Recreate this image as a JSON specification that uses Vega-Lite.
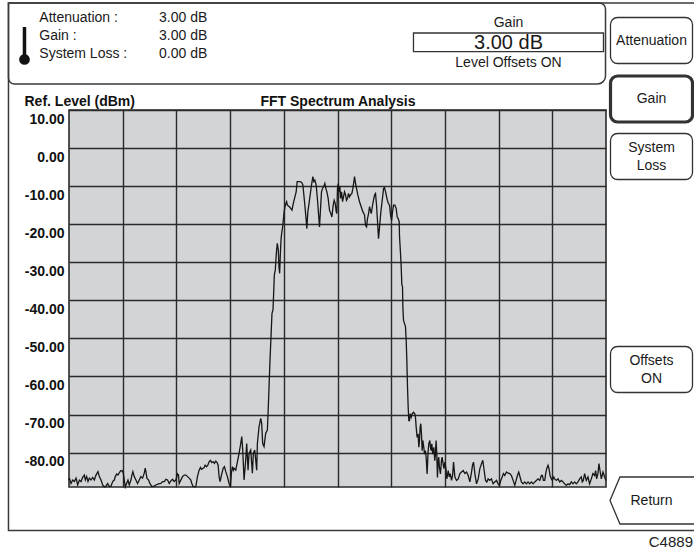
{
"$schema": "https://vega.github.io/schema/vega-lite/v6.json",
"width": 537, "height": 377,
"autosize": {"type": "none"},
"padding": {"left": 69, "top": 110, "right": 88, "bottom": 64},
"background": "#ffffff",
"config": {"font": "Liberation Sans", "view": {"fill": "#d3d4d6", "stroke": "#2a2a2a", "strokeWidth": 1.6}},
"resolve": {"scale": {"x": "independent", "y": "independent"}},
"layer": [
{
"layer": [
{
"data": {"values": [
{"f":0,"dB":-87.2},{"f":0.07,"dB":-86.7},{"f":0.38,"dB":-88.1},{"f":0.69,"dB":-87.2},{"f":1.0,"dB":-87.6},{"f":1.31,"dB":-86.7},{"f":1.62,"dB":-88.5},{"f":1.93,"dB":-87.2},{"f":2.24,"dB":-87.6},{"f":2.55,"dB":-86.5},{"f":2.86,"dB":-85.9},{"f":3.05,"dB":-87.2},{"f":3.29,"dB":-86.3},{"f":3.54,"dB":-87.6},{"f":3.79,"dB":-86.7},{"f":4.1,"dB":-87.2},{"f":4.41,"dB":-86.5},{"f":4.72,"dB":-87.2},{"f":5.03,"dB":-85.9},{"f":5.4,"dB":-85.0},{"f":5.65,"dB":-86.3},{"f":5.96,"dB":-87.2},{"f":6.27,"dB":-88.5},{"f":6.58,"dB":-89.0},{"f":6.89,"dB":-88.8},{"f":7.2,"dB":-88.1},{"f":7.51,"dB":-88.9},{"f":7.82,"dB":-88.8},{"f":8.13,"dB":-87.6},{"f":8.44,"dB":-87.2},{"f":8.62,"dB":-86.3},{"f":8.87,"dB":-85.6},{"f":9.12,"dB":-85.9},{"f":9.36,"dB":-85.3},{"f":9.61,"dB":-84.8},{"f":9.86,"dB":-84.7},{"f":10.11,"dB":-85.3},{"f":10.29,"dB":-87.2},{"f":10.48,"dB":-89.0},{"f":10.73,"dB":-88.1},{"f":10.98,"dB":-87.2},{"f":11.22,"dB":-88.5},{"f":11.53,"dB":-87.2},{"f":11.72,"dB":-85.9},{"f":11.9,"dB":-85.0},{"f":12.15,"dB":-86.3},{"f":12.46,"dB":-87.2},{"f":12.77,"dB":-88.1},{"f":13.08,"dB":-87.2},{"f":13.39,"dB":-86.3},{"f":13.7,"dB":-86.7},{"f":14.01,"dB":-85.4},{"f":14.2,"dB":-84.1},{"f":14.32,"dB":-85.0},{"f":14.51,"dB":-86.7},{"f":14.82,"dB":-87.2},{"f":15.06,"dB":-88.1},{"f":15.44,"dB":-88.9},{"f":15.87,"dB":-88.8},{"f":16.18,"dB":-88.5},{"f":16.68,"dB":-88.2},{"f":17.11,"dB":-88.1},{"f":17.42,"dB":-87.6},{"f":17.73,"dB":-87.6},{"f":18.04,"dB":-87.0},{"f":18.35,"dB":-87.2},{"f":18.66,"dB":-88.1},{"f":18.97,"dB":-87.4},{"f":19.28,"dB":-87.0},{"f":19.59,"dB":-87.6},{"f":19.9,"dB":-87.2},{"f":20.21,"dB":-85.6},{"f":20.39,"dB":-85.9},{"f":20.52,"dB":-88.1},{"f":20.83,"dB":-87.2},{"f":21.14,"dB":-86.3},{"f":21.45,"dB":-85.9},{"f":21.76,"dB":-85.9},{"f":22.07,"dB":-86.3},{"f":22.38,"dB":-86.7},{"f":22.69,"dB":-87.2},{"f":22.87,"dB":-88.1},{"f":23.12,"dB":-88.9},{"f":23.37,"dB":-89.0},{"f":23.62,"dB":-88.9},{"f":23.92,"dB":-86.3},{"f":24.23,"dB":-84.6},{"f":24.48,"dB":-83.9},{"f":24.67,"dB":-84.4},{"f":24.98,"dB":-84.1},{"f":25.16,"dB":-83.9},{"f":25.35,"dB":-83.3},{"f":25.6,"dB":-83.7},{"f":25.85,"dB":-83.3},{"f":26.09,"dB":-82.4},{"f":26.34,"dB":-82.0},{"f":26.59,"dB":-82.6},{"f":26.84,"dB":-82.4},{"f":27.09,"dB":-82.8},{"f":27.33,"dB":-82.2},{"f":27.58,"dB":-82.6},{"f":27.77,"dB":-83.3},{"f":27.95,"dB":-86.3},{"f":28.14,"dB":-87.6},{"f":28.39,"dB":-85.9},{"f":28.7,"dB":-84.1},{"f":28.94,"dB":-83.7},{"f":29.19,"dB":-85.0},{"f":29.5,"dB":-86.3},{"f":29.81,"dB":-88.1},{"f":30.06,"dB":-89.0},{"f":30.24,"dB":-85.4},{"f":30.43,"dB":-83.7},{"f":30.62,"dB":-84.6},
{"f":30.74,"dB":-84.1},{"f":31.05,"dB":-84.6},{"f":31.36,"dB":-82.4},{"f":31.67,"dB":-80.2},{"f":31.98,"dB":-77.6},{"f":32.17,"dB":-75.8},{"f":32.35,"dB":-79.3},{"f":32.6,"dB":-87.2},{"f":32.91,"dB":-81.9},{"f":33.09,"dB":-77.6},{"f":33.34,"dB":-84.6},{"f":33.53,"dB":-80.2},{"f":33.84,"dB":-79.3},{"f":34.15,"dB":-85.4},{"f":34.33,"dB":-80.2},{"f":34.58,"dB":-79.3},{"f":34.77,"dB":-81.9},{"f":34.95,"dB":-84.6},{"f":35.08,"dB":-77.6},{"f":35.39,"dB":-73.2},{"f":35.7,"dB":-71.0},{"f":35.88,"dB":-72.3},{"f":36.07,"dB":-77.6},{"f":36.32,"dB":-78.4},{"f":36.63,"dB":-74.9},{"f":36.94,"dB":-74.1},{"f":37.12,"dB":-67.9},{"f":37.25,"dB":-62.7},{"f":37.43,"dB":-55.7},{"f":37.62,"dB":-49.5},{"f":37.8,"dB":-43.4},{"f":37.99,"dB":-42.5},{"f":38.11,"dB":-38.2},{"f":38.24,"dB":-33.3},{"f":38.42,"dB":-32.0},{"f":38.61,"dB":-27.6},{"f":38.79,"dB":-25.0},{"f":38.98,"dB":-26.8},{"f":39.1,"dB":-31.2},{"f":39.23,"dB":-32.9},{"f":39.35,"dB":-28.1},{"f":39.48,"dB":-24.1},{"f":39.6,"dB":-22.4},{"f":39.79,"dB":-20.6},{"f":39.91,"dB":-18.9},{"f":40.03,"dB":-17.1},{"f":40.22,"dB":-15.4},{"f":40.41,"dB":-14.5},{"f":40.53,"dB":-14.1},{"f":40.65,"dB":-14.9},{"f":40.84,"dB":-15.2},{"f":41.03,"dB":-15.4},{"f":41.27,"dB":-15.8},{"f":41.52,"dB":-16.3},{"f":41.77,"dB":-14.5},
{"f":42.3,"dB":-11.5},{"f":42.49,"dB":-8.8},{"f":42.74,"dB":-8.8},{"f":43.05,"dB":-8.8},{"f":43.36,"dB":-9.1},{"f":43.55,"dB":-9.7},{"f":43.86,"dB":-14.1},{"f":44.17,"dB":-19.0},{"f":44.29,"dB":-21.2},{"f":44.48,"dB":-16.7},{"f":44.66,"dB":-15.0},{"f":44.91,"dB":-12.3},{"f":45.16,"dB":-9.7},{"f":45.41,"dB":-7.5},{"f":45.59,"dB":-8.8},{"f":45.78,"dB":-8.4},{"f":46.03,"dB":-9.7},{"f":46.28,"dB":-13.7},{"f":46.53,"dB":-18.5},{"f":46.65,"dB":-20.7},{"f":46.84,"dB":-15.9},{"f":47.02,"dB":-11.5},{"f":47.21,"dB":-10.6},{"f":47.46,"dB":-10.1},{"f":47.64,"dB":-9.3},{"f":47.83,"dB":-10.6},{"f":48.02,"dB":-11.5},{"f":48.26,"dB":-13.2},{"f":48.51,"dB":-16.3},{"f":48.76,"dB":-17.2},{"f":48.95,"dB":-18.1},{"f":49.2,"dB":-15.0},{"f":49.38,"dB":-13.7},{"f":49.57,"dB":-14.5},{"f":49.76,"dB":-16.7},{"f":49.88,"dB":-17.2},{"f":50.0,"dB":-10.6},{"f":50.13,"dB":-9.3},{"f":50.25,"dB":-11.5},{"f":50.44,"dB":-10.1},{"f":50.56,"dB":-13.2},{"f":50.75,"dB":-11.5},{"f":50.94,"dB":-14.1},{"f":51.12,"dB":-12.8},{"f":51.31,"dB":-11.5},{"f":51.5,"dB":-12.3},{"f":51.68,"dB":-13.7},{"f":51.87,"dB":-13.2},{"f":52.05,"dB":-11.9},{"f":52.24,"dB":-12.8},{"f":52.43,"dB":-12.3},{"f":52.68,"dB":-11.9},{"f":52.86,"dB":-10.6},{"f":53.05,"dB":-8.8},{"f":53.17,"dB":-7.5},{"f":53.36,"dB":-9.3},{"f":53.54,"dB":-10.6},{"f":53.79,"dB":-12.3},{"f":54.1,"dB":-14.1},{"f":54.41,"dB":-15.4},{"f":54.72,"dB":-16.7},{"f":55.04,"dB":-17.6},{"f":55.22,"dB":-20.3},{"f":55.41,"dB":-20.7},{"f":55.59,"dB":-18.5},{"f":55.78,"dB":-17.2},{"f":55.97,"dB":-15.4},{"f":56.28,"dB":-17.2},{"f":56.59,"dB":-14.5},{"f":56.9,"dB":-12.3},{"f":57.08,"dB":-11.9},{"f":57.27,"dB":-15.0},{"f":57.46,"dB":-19.4},{"f":57.64,"dB":-23.8},{"f":57.83,"dB":-20.7},{"f":58.08,"dB":-16.7},{"f":58.33,"dB":-13.7},{"f":58.58,"dB":-10.6},{"f":58.76,"dB":-10.4},{"f":58.95,"dB":-11.5},{"f":59.2,"dB":-13.2},{"f":59.45,"dB":-14.5},{"f":59.69,"dB":-15.0},{"f":59.88,"dB":-17.6},{"f":60.07,"dB":-19.0},{"f":60.25,"dB":-16.7},{"f":60.44,"dB":-15.0},{"f":60.69,"dB":-15.0},{"f":60.93,"dB":-15.9},{"f":61.12,"dB":-18.1},{"f":61.3,"dB":-18.5},{"f":61.49,"dB":-19.4},
{"f":61.55,"dB":-23.2},{"f":61.73,"dB":-27.6},{"f":61.86,"dB":-31.1},{"f":61.98,"dB":-35.9},{"f":62.11,"dB":-36.4},{"f":62.17,"dB":-41.7},{"f":62.29,"dB":-45.2},{"f":62.48,"dB":-46.1},{"f":62.66,"dB":-46.9},{"f":62.79,"dB":-50.5},{"f":62.91,"dB":-55.7},{"f":63.04,"dB":-62.8},{"f":63.16,"dB":-68.0},{"f":63.28,"dB":-71.6},{"f":63.41,"dB":-71.6},{"f":63.53,"dB":-69.8},{"f":63.72,"dB":-70.7},{"f":63.9,"dB":-69.8},{"f":64.15,"dB":-69.4},{"f":64.4,"dB":-69.8},{"f":64.52,"dB":-70.7},{"f":64.65,"dB":-73.3},{"f":64.83,"dB":-76.0},{"f":65.02,"dB":-75.1},{"f":65.14,"dB":-78.6},{"f":65.27,"dB":-76.8},{"f":65.39,"dB":-73.3},{"f":65.51,"dB":-72.4},{"f":65.64,"dB":-75.1},{"f":65.76,"dB":-79.5},{"f":65.89,"dB":-76.8},{"f":66.07,"dB":-78.6},{"f":66.2,"dB":-80.4},{"f":66.38,"dB":-79.5},{"f":66.51,"dB":-81.2},{"f":66.69,"dB":-85.6},{"f":66.88,"dB":-79.5},{"f":67.0,"dB":-77.7},{"f":67.19,"dB":-76.8},{"f":67.31,"dB":-78.6},{"f":67.43,"dB":-79.5},{"f":67.56,"dB":-77.7},{"f":67.74,"dB":-80.4},{"f":67.93,"dB":-78.6},{"f":68.12,"dB":-82.1},{"f":68.24,"dB":-80.4},{"f":68.36,"dB":-76.8},{"f":68.49,"dB":-80.4},{"f":68.61,"dB":-86.5},{"f":68.74,"dB":-82.1},{"f":68.86,"dB":-81.2},{"f":68.98,"dB":-83.9},{"f":69.17,"dB":-85.6},{"f":69.36,"dB":-82.1},{"f":69.48,"dB":-81.2},
{"f":69.81,"dB":-84.2},{"f":70.0,"dB":-82.5},{"f":70.19,"dB":-84.2},{"f":70.37,"dB":-86.9},{"f":70.62,"dB":-84.7},{"f":70.81,"dB":-86.4},{"f":70.99,"dB":-85.5},{"f":71.24,"dB":-87.3},{"f":71.43,"dB":-86.0},{"f":71.61,"dB":-82.5},{"f":71.86,"dB":-86.4},{"f":72.17,"dB":-87.3},{"f":72.48,"dB":-86.9},{"f":72.79,"dB":-85.5},{"f":73.1,"dB":-85.1},{"f":73.41,"dB":-84.7},{"f":73.72,"dB":-85.5},{"f":74.03,"dB":-85.1},{"f":74.34,"dB":-86.0},{"f":74.65,"dB":-87.7},{"f":74.96,"dB":-85.1},{"f":75.14,"dB":-83.3},{"f":75.33,"dB":-82.5},{"f":75.58,"dB":-85.5},{"f":75.89,"dB":-88.2},{"f":76.2,"dB":-86.9},{"f":76.51,"dB":-84.2},{"f":76.82,"dB":-82.9},{"f":77.06,"dB":-82.0},{"f":77.31,"dB":-84.7},{"f":77.56,"dB":-87.3},{"f":77.81,"dB":-87.7},{"f":78.05,"dB":-86.9},{"f":78.36,"dB":-87.3},{"f":78.67,"dB":-86.9},{"f":78.98,"dB":-88.2},{"f":79.29,"dB":-87.7},{"f":79.6,"dB":-87.3},{"f":79.91,"dB":-88.2},{"f":80.16,"dB":-88.6},{"f":80.41,"dB":-87.3},{"f":80.66,"dB":-86.4},{"f":80.9,"dB":-85.5},{"f":81.15,"dB":-86.0},{"f":81.46,"dB":-85.1},{"f":81.77,"dB":-85.4},{"f":82.08,"dB":-85.5},{"f":82.39,"dB":-86.0},{"f":82.7,"dB":-87.3},{"f":83.01,"dB":-88.6},{"f":83.26,"dB":-87.3},{"f":83.51,"dB":-86.0},{"f":83.75,"dB":-85.1},{"f":84.0,"dB":-86.4},{"f":84.25,"dB":-87.7},{"f":84.56,"dB":-88.2},{"f":84.87,"dB":-87.7},{"f":85.18,"dB":-88.2},{"f":85.49,"dB":-87.7},{"f":85.8,"dB":-88.2},{"f":86.11,"dB":-87.7},{"f":86.42,"dB":-88.2},{"f":86.73,"dB":-87.7},{"f":87.04,"dB":-87.3},{"f":87.35,"dB":-86.9},{"f":87.66,"dB":-87.3},{"f":87.97,"dB":-86.0},{"f":88.15,"dB":-86.0},{"f":88.34,"dB":-87.3},{"f":88.59,"dB":-87.3},{"f":88.77,"dB":-85.5},{"f":88.96,"dB":-84.2},{"f":89.21,"dB":-83.3},{"f":89.39,"dB":-84.2},{"f":89.58,"dB":-86.0},{"f":89.83,"dB":-86.9},{"f":90.01,"dB":-87.3},{"f":90.26,"dB":-86.4},{"f":90.45,"dB":-86.9},{"f":90.76,"dB":-87.3},{"f":91.07,"dB":-86.9},{"f":91.38,"dB":-87.7},{"f":91.69,"dB":-87.3},{"f":92.0,"dB":-87.7},{"f":92.3,"dB":-88.2},{"f":92.61,"dB":-88.6},{"f":92.92,"dB":-88.2},{"f":93.23,"dB":-88.4},{"f":93.54,"dB":-87.7},{"f":93.85,"dB":-88.2},{"f":94.16,"dB":-87.7},{"f":94.47,"dB":-88.2},{"f":94.78,"dB":-87.7},{"f":95.09,"dB":-86.9},{"f":95.4,"dB":-86.4},{"f":95.58,"dB":-87.7},{"f":95.77,"dB":-87.3},{"f":96.02,"dB":-85.5},{"f":96.33,"dB":-87.3},{"f":96.64,"dB":-86.4},{"f":96.95,"dB":-88.2},{"f":97.26,"dB":-86.9},{"f":97.57,"dB":-85.5},{"f":97.88,"dB":-86.0},{"f":98.07,"dB":-84.7},{"f":98.25,"dB":-86.9},{"f":98.5,"dB":-85.5},{"f":98.69,"dB":-82.9},{"f":98.88,"dB":-84.7},{"f":99.13,"dB":-86.9},{"f":99.44,"dB":-85.1},{"f":99.75,"dB":-86.4},{"f":100.0,"dB":-87.3}
]},
"mark": {"type": "line", "color": "#161616", "strokeWidth": 1.3},
"encoding": {
"x": {"field": "f", "type": "quantitative", "scale": {"domain": [0, 100], "nice": false, "zero": false},
 "axis": {"orient": "top", "values": [10,20,30,40,50,60,70,80,90], "grid": true, "gridColor": "#2a2a2a", "gridWidth": 1.4, "gridOpacity": 1, "labels": false, "ticks": false, "domain": false,
  "title": "FFT Spectrum Analysis", "titleFont": "Liberation Sans", "titleFontSize": 14, "titleFontWeight": "bold", "titleColor": "#111111", "titleX": 268.5, "titleY": -5, "titleAlign": "center", "titleBaseline": "alphabetic", "titleAngle": 0}},
"y": {"field": "dB", "type": "quantitative", "scale": {"domain": [-89.03, 10], "nice": false, "zero": false},
 "axis": {"orient": "left", "values": [10,0,-10,-20,-30,-40,-50,-60,-70,-80], "labelExpr": "replace(format(datum.value, '.2f'), '\u2212', '-')", "grid": true, "gridColor": "#2a2a2a", "gridWidth": 1.4, "gridOpacity": 1, "ticks": false, "domain": false,
  "labelFont": "Liberation Sans", "labelFontSize": 14, "labelFontWeight": "bold", "labelColor": "#111111", "labelBaseline": "top", "labelOffset": 2, "labelPadding": 5, "labelAlign": "right", "labelFlush": false, "labelOverlap": false, "labelBound": false,
  "title": "Ref. Level (dBm)", "titleFont": "Liberation Sans", "titleFontSize": 14, "titleFontWeight": "bold", "titleColor": "#111111", "titleAngle": 0, "titleAlign": "left", "titleBaseline": "alphabetic", "titleX": -45, "titleY": -5}}
}
},
{
"data": {"values": [{}]},
"mark": {"type": "rect", "fill": "transparent", "stroke": "#3a3a3a", "strokeWidth": 1.5},
"encoding": {"x": {"datum": -11.27, "type": "quantitative"}, "x2": {"datum": 121.2}, "y": {"datum": 38.11, "type": "quantitative"}, "y2": {"datum": -100.45}}
},
{
"data": {"values": [{}]},
"mark": {"type": "rect", "fill": "transparent", "stroke": "#3a3a3a", "strokeWidth": 1.5, "cornerRadiusTopLeft": 0, "cornerRadiusTopRight": 6, "cornerRadiusBottomLeft": 6, "cornerRadiusBottomRight": 8},
"encoding": {"x": {"datum": -11.27, "type": "quantitative"}, "x2": {"datum": 99.91}, "y": {"datum": 38.11, "type": "quantitative"}, "y2": {"datum": 16.83}}
},
{
"data": {"values": [{}]},
"mark": {"type": "rect", "fill": "transparent", "stroke": "#333333", "strokeWidth": 1.3},
"encoding": {"x": {"datum": 64.15, "type": "quantitative"}, "x2": {"datum": 99.53}, "y": {"datum": 30.23, "type": "quantitative"}, "y2": {"datum": 25.31}}
},
{
"data": {"values": [{}]},
"mark": {"type": "rule", "color": "#111111", "strokeWidth": 3.5},
"encoding": {"x": {"datum": -8.29, "type": "quantitative"}, "y": {"datum": 31.8, "type": "quantitative"}, "y2": {"datum": 23.4}}
},
{
"data": {"values": [{}]},
"mark": {"type": "point", "shape": "circle", "filled": true, "color": "#111111", "opacity": 1, "size": 115},
"encoding": {"x": {"datum": -8.29, "type": "quantitative"}, "y": {"datum": 23.27, "type": "quantitative"}}
},
{
"data": {"values": [{}]},
"mark": {"type": "text", "align": "right", "baseline": "middle", "fontSize": 15, "color": "#222222", "font": "Liberation Sans"},
"encoding": {"x": {"datum": 116.2, "type": "quantitative"}, "y": {"datum": -103.4, "type": "quantitative"}, "text": {"value": "C4889"}}
}
]
},
{
"data": {"values": [
{"line": 1, "param": "Attenuation :", "setting": "3.00 dB"},
{"line": 2, "param": "Gain :", "setting": "3.00 dB"},
{"line": 3, "param": "System Loss :", "setting": "0.00 dB"}
]},
"transform": [{"fold": ["param", "setting"], "as": ["part", "txt"]}],
"mark": {"type": "text", "align": "left", "baseline": "middle", "fontSize": 14, "color": "#1a1a1a", "font": "Liberation Sans"},
"encoding": {
"x": {"field": "part", "type": "nominal", "scale": {"type": "point", "domain": ["param", "setting"], "range": [-29.7, 90], "padding": 0}, "axis": null},
"y": {"field": "line", "type": "ordinal", "scale": {"type": "point", "domain": [1, 2, 3], "range": [-92.5, -55.7], "padding": 0}, "axis": null},
"text": {"field": "txt"}
}
},
{
"data": {"values": [
{"line": 1, "txt": "Gain"},
{"line": 2, "txt": "3.00 dB"},
{"line": 3, "txt": "Level Offsets ON"}
]},
"mark": {"type": "text", "align": "center", "baseline": "middle", "color": "#1a1a1a", "font": "Liberation Sans"},
"encoding": {
"x": {"datum": "gainpanel", "type": "nominal", "scale": {"type": "band", "range": [344.5, 534.5], "paddingInner": 0, "paddingOuter": 0}, "axis": null},
"y": {"field": "line", "type": "ordinal", "scale": {"type": "point", "domain": [1, 2, 3], "range": [-86.8, -46.7], "padding": 0}, "axis": null},
"size": {"condition": {"test": "datum.line == 2", "value": 20}, "value": 14},
"text": {"field": "txt"}
}
},
{
"data": {"values": [
{"key": "Attenuation", "slot": 1, "active": false},
{"key": "Gain", "slot": 2, "active": true},
{"key": "System\nLoss", "slot": 3, "active": false},
{"key": "Offsets\nON", "slot": 6, "active": false},
{"key": "Return", "slot": 8, "active": false}
]},
"encoding": {
"x": {"datum": "softkeys", "type": "nominal", "scale": {"type": "band", "range": [541.5, 623.5], "paddingInner": 0, "paddingOuter": 0}, "axis": null},
"y": {"field": "slot", "type": "quantitative", "scale": {"domain": [1, 2, 3, 6, 8], "range": [-69.5, -11, 46.5, 259.5, 390.5], "zero": false, "nice": false}, "axis": null}
},
"layer": [
{"transform": [{"filter": "datum.slot != 8"}],
 "mark": {"type": "rect", "height": 46, "cornerRadius": 7, "fill": "#ffffff", "stroke": "#333333"},
 "encoding": {"strokeWidth": {"condition": {"test": "datum.active", "value": 3.2}, "value": 1.3}}},
{"transform": [{"filter": "datum.slot == 8"}],
 "mark": {"type": "point", "shape": "M -1 0 L -0.76 -0.566 L 1.05 -0.566 L 1.05 0.566 L -0.76 0.566 Z", "size": 6889, "filled": true, "fill": "#ffffff", "stroke": "#333333", "strokeWidth": 1.3, "opacity": 1}},
{"transform": [{"filter": "datum.slot != 3 && datum.slot != 6"}],
 "mark": {"type": "text", "fontSize": 14, "align": "center", "baseline": "middle", "color": "#1a1a1a", "font": "Liberation Sans"},
 "encoding": {"text": {"field": "key"}}},
{"transform": [{"filter": "datum.slot == 3 || datum.slot == 6"}],
 "mark": {"type": "text", "fontSize": 14, "lineBreak": "\n", "lineHeight": 18, "dy": -9, "align": "center", "baseline": "middle", "color": "#1a1a1a", "font": "Liberation Sans"},
 "encoding": {"text": {"field": "key"}}}
]
}
]
}
